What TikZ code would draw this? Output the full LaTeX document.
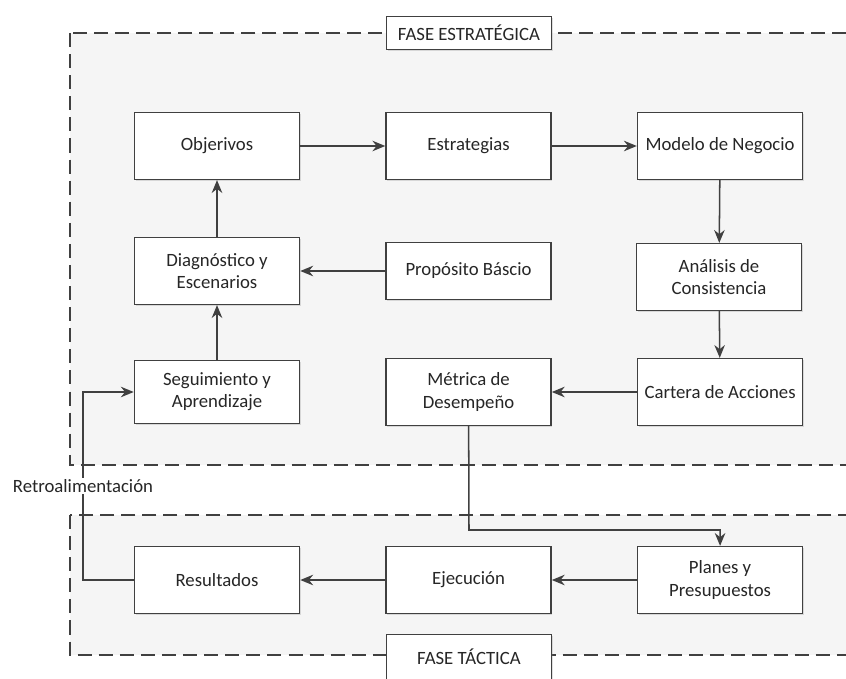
\documentclass[tikz,border=0pt]{standalone}
\usepackage{fontspec}
\setmainfont{Carlito}
\usetikzlibrary{arrows.meta,positioning,shadows}

\begin{document}
\begin{tikzpicture}[x=0.03cm,y=-0.03cm,font=\fontsize{16}{19}\selectfont,text=black!85,>={Stealth[length=11pt,width=9pt]},
  b/.style={draw=black!75,line width=1.3pt,fill=white,minimum width=4.95cm,minimum height=2cm,align=center,
    drop shadow={opacity=0.25,shadow xshift=1.2pt,shadow yshift=-1.2pt}},
  f/.style={b,minimum height=1cm},
  r/.style={draw=black!75,line width=1.2pt,dash pattern=on 12pt off 6pt,fill=black!4},
  c/.style={->,draw=black!75,line width=1.3pt}]
\useasboundingbox (0,0) rectangle (846,679);
\clip (0,0) rectangle (846,679);
% fases
\draw[r] (70,33) rectangle (880,465);
\draw[r] (70,515) rectangle (880,655);
\node[f] (fe) at (469,33) {FASE ESTRATÉGICA};
\node[f,minimum height=1.35cm] (ft) at (469,657) {FASE TÁCTICA};
% estrategica
\node[b] (obj) at (217,146) {Objerivos};
\node[b,right=2.55cm of obj] (est) {Estrategias};
\node[b,right=2.55cm of est] (mod) {Modelo de Negocio};
\node[b] (diag) at (217,271) {Diagnóstico y\\Escenarios};
\node[b,minimum height=1.7cm,right=2.55cm of diag] (prop) {Propósito Báscio};
\node[b] (ana) at (719,277) {Análisis de\\Consistencia};
\node[b,minimum height=1.9cm] (seg) at (217,392) {Seguimiento y\\Aprendizaje};
\node[b,right=2.55cm of seg] (met) {Métrica de\\Desempeño};
\node[b,right=2.55cm of met] (car) {Cartera de Acciones};
% tactica
\node[b] (res) at (217,580) {Resultados};
\node[b,right=2.55cm of res] (eje) {Ejecución};
\node[b,right=2.55cm of eje] (plan) {Planes y\\Presupuestos};
\coordinate (k) at (469,530);
\coordinate (fb) at (83,580);
\draw[c](obj)--(est);\draw[c](est)--(mod);
\draw[c](mod)--(ana);\draw[c](ana)--(car);
\draw[c](car)--(met);\draw[c](prop)--(diag);
\draw[c](seg)--(diag);\draw[c](diag)--(obj);
\draw[c](eje)--(res);\draw[c](plan)--(eje);
\draw[c](met)--(k)-|(plan);
\draw[c](res)--(fb)|-(seg) node[pos=0.25,fill=white,inner sep=1pt] (retro) {Retroalimentación};
\end{tikzpicture}
\end{document}
